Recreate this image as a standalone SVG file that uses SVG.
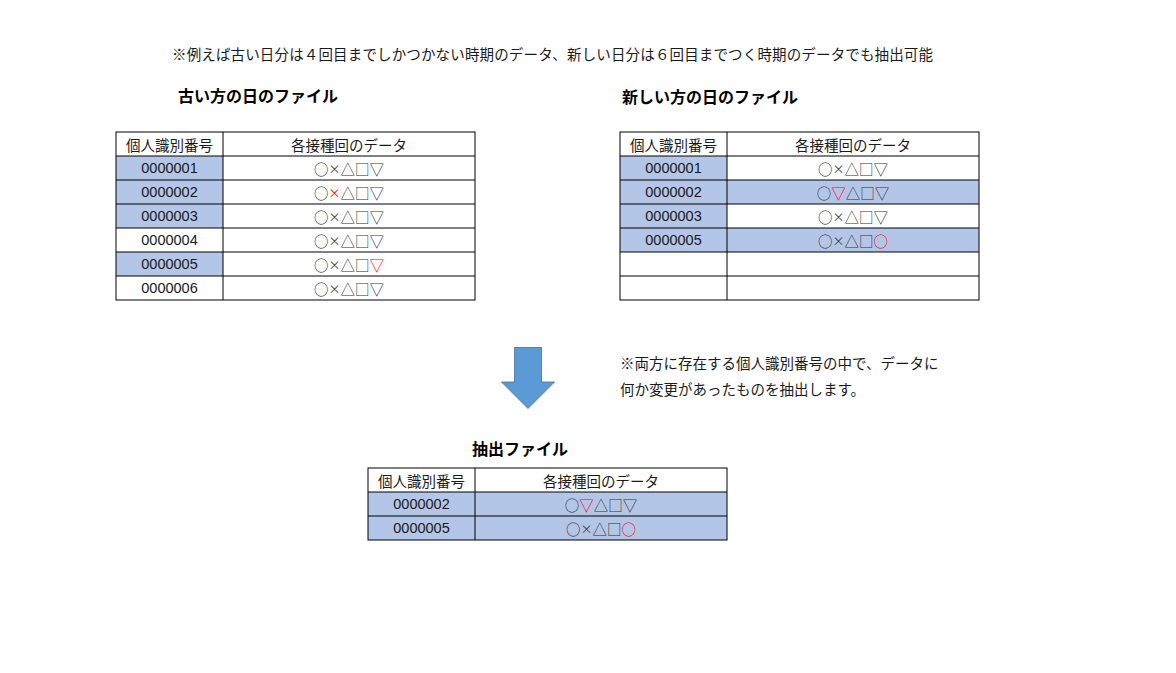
<svg xmlns="http://www.w3.org/2000/svg" width="1176" height="673" viewBox="0 0 1176 673">
<style>
text{font-family:"Noto Sans CJK JP","Noto Sans",sans-serif;fill:#1a1a1a;}
.note{font-size:14.5px;}
.title{font-size:16px;font-weight:bold;fill:#000;}
.cell{font-size:14.5px;text-anchor:middle;dominant-baseline:central;}
.sym{fill:#333;}
.x{font-size:12px;fill:#444;}
.num{font-family:"Liberation Sans",Arial,sans-serif;font-size:14.5px;text-anchor:middle;dominant-baseline:central;}
.hl{fill:#B4C6E7;}
.grid{stroke:#000;stroke-width:1;fill:none;}
.r{fill:#FF0000;}
</style>
<rect width="1176" height="673" fill="#fff"/>
<text class="note" x="172" y="60" textLength="761" lengthAdjust="spacing">※例えば古い日分は４回目までしかつかない時期のデータ、新しい日分は６回目までつく時期のデータでも抽出可能</text>

<g id="old-file">
<text class="title" x="178" y="102">古い方の日のファイル</text>
<rect class="hl" x="116" y="156" width="107" height="72"/>
<rect class="hl" x="116" y="252" width="107" height="24"/>
<g class="grid">
<rect x="116" y="132" width="359" height="168"/>
<line x1="223" y1="132" x2="223" y2="300"/>
<line x1="116" y1="156" x2="475" y2="156"/>
<line x1="116" y1="180" x2="475" y2="180"/>
<line x1="116" y1="204" x2="475" y2="204"/>
<line x1="116" y1="228" x2="475" y2="228"/>
<line x1="116" y1="252" x2="475" y2="252"/>
<line x1="116" y1="276" x2="475" y2="276"/>
</g>
<text class="cell" x="169.5" y="144">個人識別番号</text>
<text class="cell" x="349" y="144">各接種回のデータ</text>
<text class="num" x="169.5" y="168">0000001</text>
<text class="num" x="169.5" y="192">0000002</text>
<text class="num" x="169.5" y="216">0000003</text>
<text class="num" x="169.5" y="240">0000004</text>
<text class="num" x="169.5" y="264">0000005</text>
<text class="num" x="169.5" y="288">0000006</text>
<text class="cell sym" x="349" y="168">○<tspan class="x">×</tspan>△□▽</text>
<text class="cell sym" x="349" y="192">○<tspan class="x r">×</tspan>△□▽</text>
<text class="cell sym" x="349" y="216">○<tspan class="x">×</tspan>△□▽</text>
<text class="cell sym" x="349" y="240">○<tspan class="x">×</tspan>△□▽</text>
<text class="cell sym" x="349" y="264">○<tspan class="x">×</tspan>△□<tspan class="r">▽</tspan></text>
<text class="cell sym" x="349" y="288">○<tspan class="x">×</tspan>△□▽</text>
</g>

<g id="new-file">
<text class="title" x="622" y="103">新しい方の日のファイル</text>
<rect class="hl" x="620" y="156" width="107" height="96"/>
<rect class="hl" x="727" y="180" width="252" height="24"/>
<rect class="hl" x="727" y="228" width="252" height="24"/>
<g class="grid">
<rect x="620" y="132" width="359" height="168"/>
<line x1="727" y1="132" x2="727" y2="300"/>
<line x1="620" y1="156" x2="979" y2="156"/>
<line x1="620" y1="180" x2="979" y2="180"/>
<line x1="620" y1="204" x2="979" y2="204"/>
<line x1="620" y1="228" x2="979" y2="228"/>
<line x1="620" y1="252" x2="979" y2="252"/>
<line x1="620" y1="276" x2="979" y2="276"/>
</g>
<text class="cell" x="673.5" y="144">個人識別番号</text>
<text class="cell" x="853" y="144">各接種回のデータ</text>
<text class="num" x="673.5" y="168">0000001</text>
<text class="num" x="673.5" y="192">0000002</text>
<text class="num" x="673.5" y="216">0000003</text>
<text class="num" x="673.5" y="240">0000005</text>
<text class="cell sym" x="853" y="168">○<tspan class="x">×</tspan>△□▽</text>
<text class="cell sym" x="853" y="192">○<tspan class="r">▽</tspan>△□▽</text>
<text class="cell sym" x="853" y="216">○<tspan class="x">×</tspan>△□▽</text>
<text class="cell sym" x="853" y="240">○<tspan class="x">×</tspan>△□<tspan class="r">○</tspan></text>
</g>

<g id="connectors">
<path d="M514.5,347.5 H541.5 V382 H554.5 L528,408.5 L501.5,382 H514.5 Z" fill="#5B9BD5" stroke="#41719C" stroke-width="0.8"/>
</g>

<g id="explanation">
<text class="note" x="620" y="369">※両方に存在する個人識別番号の中で、データに</text>
<text class="note" x="620" y="395">何か変更があったものを抽出します。</text>
</g>

<g id="extract-file">
<text class="title" x="472" y="455">抽出ファイル</text>
<rect class="hl" x="368" y="492" width="359" height="48"/>
<g class="grid">
<rect x="368" y="468" width="359" height="72"/>
<line x1="475" y1="468" x2="475" y2="540"/>
<line x1="368" y1="492" x2="727" y2="492"/>
<line x1="368" y1="516" x2="727" y2="516"/>
</g>
<text class="cell" x="421.5" y="480">個人識別番号</text>
<text class="cell" x="601" y="480">各接種回のデータ</text>
<text class="num" x="421.5" y="504">0000002</text>
<text class="num" x="421.5" y="528">0000005</text>
<text class="cell sym" x="601" y="504">○<tspan class="r">▽</tspan>△□▽</text>
<text class="cell sym" x="601" y="528">○<tspan class="x">×</tspan>△□<tspan class="r">○</tspan></text>
</g>
</svg>
